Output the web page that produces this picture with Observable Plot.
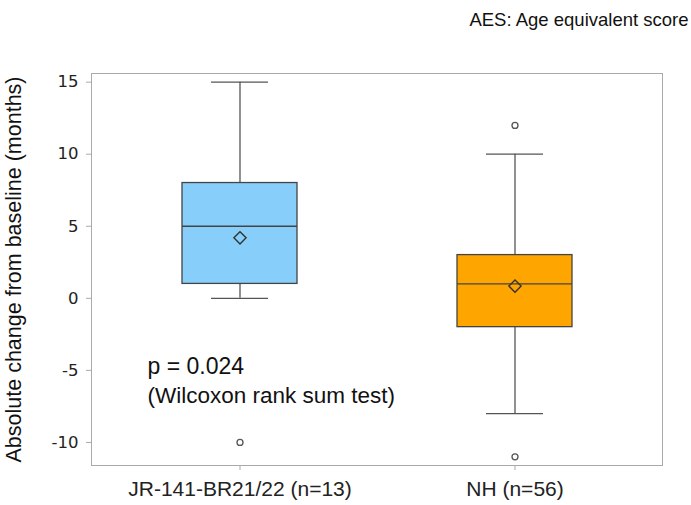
<!DOCTYPE html>
<html>
<head>
<meta charset="utf-8">
<script src="https://cdn.jsdelivr.net/npm/d3@7"></script>
<script src="https://cdn.jsdelivr.net/npm/@observablehq/plot@0.6"></script>
<style>
  body { margin: 0; background: #fff; }
  #chart svg { display: block; }
</style>
</head>
<body>
<div id="chart"></div>
<script>
// ---- data ----
const groups = ["JR-141-BR21/22 (n=13)", "NH (n=56)"];
const colors = ["#87CEFA", "#FFA500"];
const whiskerLow = [0, -8];
const q1 = [1, -2];
const median = [5, 1];
const q3 = [8, 3];
const whiskerHigh = [15, 10];
const means = [4.2, 0.85];
const outlierGroup = ["JR-141-BR21/22 (n=13)", "NH (n=56)", "NH (n=56)"];
const outlierValue = [-10, 12, -11];
const yTicks = [-10, -5, 0, 5, 10, 15];
const yLabel = "Absolute change from baseline (months)";
const noteText = "AES: Age equivalent score";
const pText = "p = 0.024";
const testText = "(Wilcoxon rank sum test)";

const boxes = groups.map((g, i) => ({
  group: g, color: colors[i], lo: whiskerLow[i], q1: q1[i], med: median[i],
  q3: q3[i], hi: whiskerHigh[i], mean: means[i]
}));
const outliers = outlierGroup.map((g, i) => ({group: g, value: outlierValue[i]}));

const W = 691, H = 505;
const mL = 91, mR = 29, mT = 73, mB = 40;
const capInset = 29;
const sans = "Liberation Sans, Arial, sans-serif";

const chart = Plot.plot({
  width: W,
  height: H,
  marginLeft: mL,
  marginRight: mR,
  marginTop: mT,
  marginBottom: mB,
  style: {background: "#fff"},
  x: {type: "band", domain: groups, paddingInner: 0.582, paddingOuter: 0.329, label: null},
  y: {domain: [-11.6, 15.6], label: null},
  marks: [
    Plot.frame({stroke: "#aaa", strokeWidth: 1}),
    Plot.axisY({
      ticks: yTicks, tickFormat: d => String(d), tickSize: 5, tickPadding: 8,
      stroke: "#aaa", fill: "#222", fontSize: 16.5, fontFamily: "DejaVu Sans", label: null
    }),
    Plot.axisX({
      tickSize: 5, tickPadding: 11, stroke: "#aaa", fill: "#222",
      fontSize: 21, fontFamily: sans, label: null
    }),
    // whiskers (vertical lines)
    Plot.ruleX(boxes, {x: "group", y1: "lo", y2: "q1", stroke: "#555", strokeWidth: 1.3}),
    Plot.ruleX(boxes, {x: "group", y1: "q3", y2: "hi", stroke: "#555", strokeWidth: 1.3}),
    // whisker caps
    Plot.tickY(boxes, {x: "group", y: "lo", stroke: "#555", strokeWidth: 1.3, insetLeft: capInset, insetRight: capInset}),
    Plot.tickY(boxes, {x: "group", y: "hi", stroke: "#555", strokeWidth: 1.3, insetLeft: capInset, insetRight: capInset}),
    // boxes
    Plot.barY(boxes, {x: "group", y1: "q1", y2: "q3", fill: "color", stroke: "#444", strokeWidth: 1.3}),
    // median
    Plot.tickY(boxes, {x: "group", y: "med", stroke: "#444", strokeWidth: 1.3}),
    // mean diamond
    Plot.dot(boxes, {x: "group", y: "mean", symbol: "diamond2", r: 5.5, stroke: "#333", strokeWidth: 1.4, fill: "none"}),
    // outliers
    Plot.dot(outliers, {x: "group", y: "value", r: 3, stroke: "#555", strokeWidth: 1.3, fill: "#fff"}),
    // annotations
    Plot.text([pText], {text: d => d, frameAnchor: "bottom-left", dx: 56, dy: -92, textAnchor: "start",
      fontSize: 23, fontFamily: sans, fill: "#111", lineAnchor: "bottom"}),
    Plot.text([testText], {text: d => d, frameAnchor: "bottom-left", dx: 56, dy: -63, textAnchor: "start",
      fontSize: 22.5, fontFamily: sans, fill: "#111", lineAnchor: "bottom"}),
    Plot.text([yLabel], {text: d => d, frameAnchor: "left", dx: -77, rotate: -90, textAnchor: "middle",
      lineAnchor: "middle", fontSize: 21.5, fontFamily: sans, fill: "#111"}),
    Plot.text([noteText], {text: d => d, frameAnchor: "top-right", dx: 26, dy: -61, textAnchor: "end",
      fontSize: 18.5, fontFamily: sans, fill: "#111"})
  ]
});
document.getElementById("chart").appendChild(chart);
</script>
</body>
</html>
